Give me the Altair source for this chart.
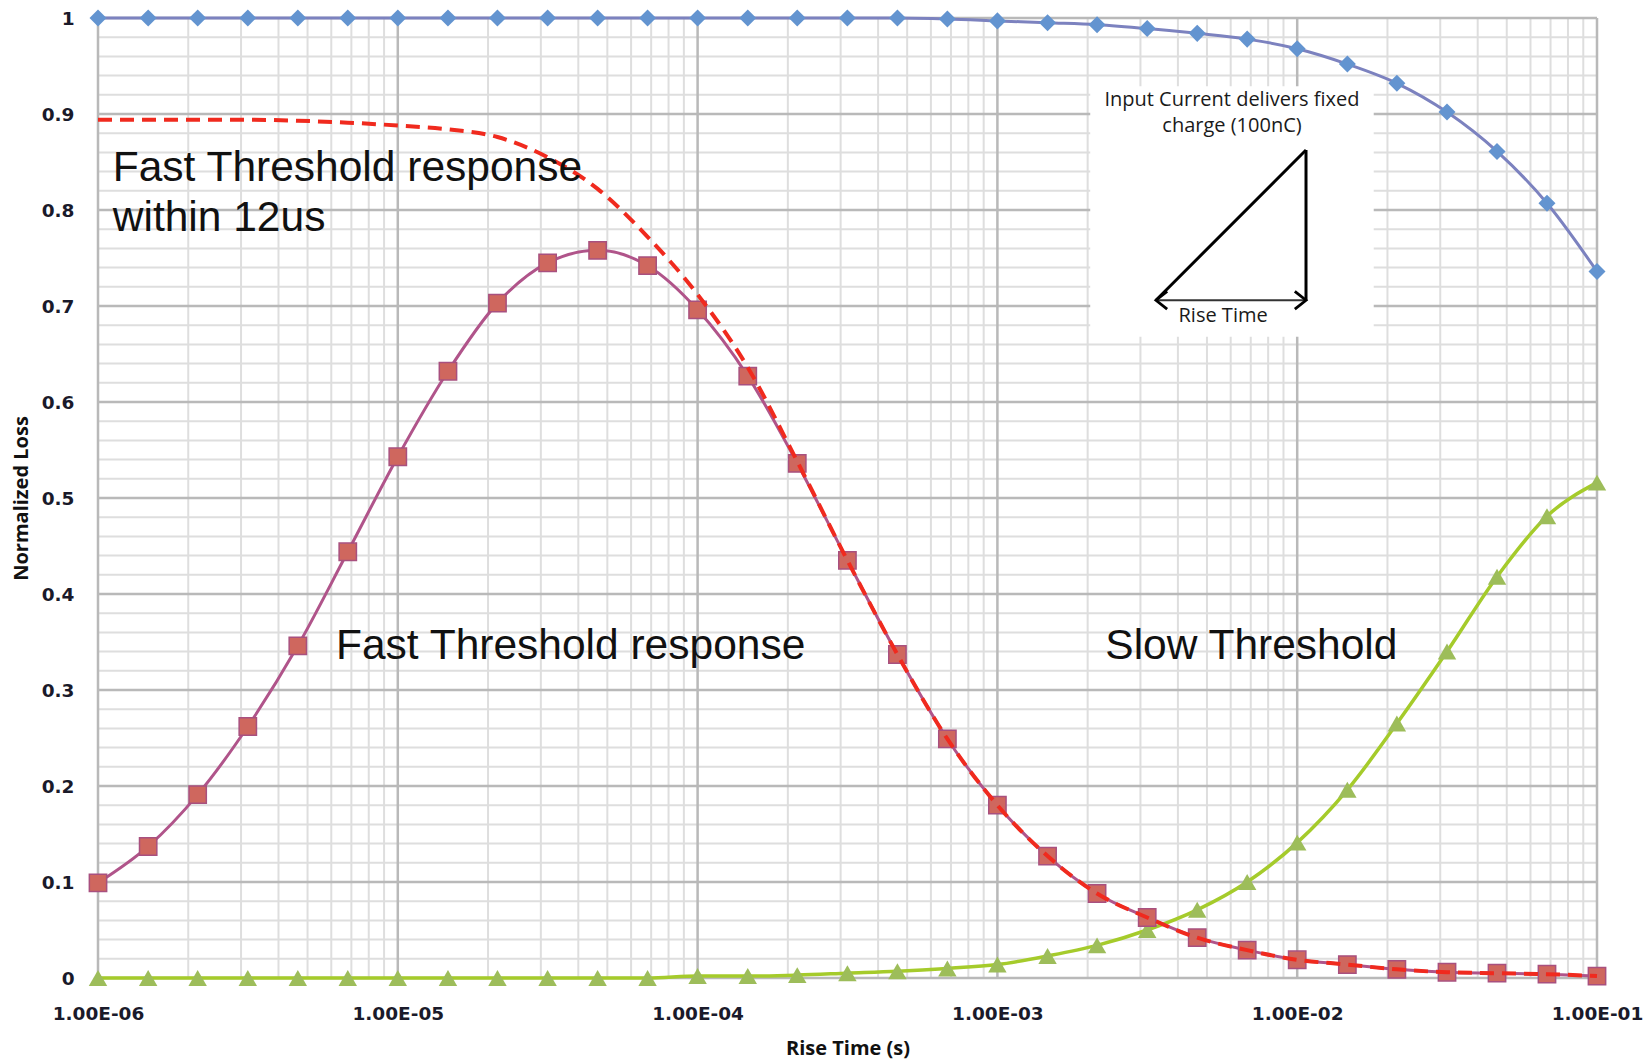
import altair as alt
import pandas as pd

# ---------------- data ----------------
rise_time = [1.00e-6, 1.47e-6, 2.15e-6, 3.16e-6, 4.64e-6, 6.81e-6,
             1.00e-5, 1.47e-5, 2.15e-5, 3.16e-5, 4.64e-5, 6.81e-5,
             1.00e-4, 1.47e-4, 2.15e-4, 3.16e-4, 4.64e-4, 6.81e-4,
             1.00e-3, 1.47e-3, 2.15e-3, 3.16e-3, 4.64e-3, 6.81e-3,
             1.00e-2, 1.47e-2, 2.15e-2, 3.16e-2, 4.64e-2, 6.81e-2,
             1.00e-1]

total_loss = [1.000, 1.000, 1.000, 1.000, 1.000, 1.000,
              1.000, 1.000, 1.000, 1.000, 1.000, 1.000,
              1.000, 1.000, 1.000, 1.000, 1.000, 0.999,
              0.997, 0.995, 0.993, 0.989, 0.984, 0.978,
              0.968, 0.952, 0.932, 0.902, 0.861, 0.807,
              0.736]

fast_threshold = [0.099, 0.137, 0.191, 0.262, 0.346, 0.444,
                  0.543, 0.632, 0.703, 0.745, 0.758, 0.742,
                  0.696, 0.627, 0.536, 0.435, 0.337, 0.249,
                  0.180, 0.127, 0.088, 0.063, 0.042, 0.029,
                  0.019, 0.014, 0.009, 0.006, 0.005, 0.004,
                  0.002]

fast_within_12us = [0.894, 0.894, 0.894, 0.894, 0.893, 0.891,
                    0.888, 0.884, 0.876, 0.855, 0.822, 0.772,
                    0.712, 0.636, 0.538, 0.435, 0.337, 0.249,
                    0.180, 0.127, 0.088, 0.063, 0.042, 0.029,
                    0.019, 0.014, 0.009, 0.006, 0.005, 0.004,
                    0.002]

slow_threshold = [0.000, 0.000, 0.000, 0.000, 0.000, 0.000,
                  0.000, 0.000, 0.000, 0.000, 0.000, 0.000,
                  0.002, 0.002, 0.003, 0.005, 0.007, 0.010,
                  0.014, 0.023, 0.034, 0.050, 0.071, 0.100,
                  0.141, 0.196, 0.265, 0.340, 0.418, 0.481,
                  0.516]

x_major = [1e-6, 1e-5, 1e-4, 1e-3, 1e-2, 1e-1]
x_minor = [m * d for d in [1e-6, 1e-5, 1e-4, 1e-3, 1e-2] for m in range(2, 10)]
y_major = [0.0, 0.1, 0.2, 0.3, 0.4, 0.5, 0.6, 0.7, 0.8, 0.9, 1.0]
y_minor = [i / 50 for i in range(51) if i % 5]

# annotation texts (data coordinates)
ann_text = ["Fast Threshold response", "within 12us", "Fast Threshold response", "Slow Threshold"]
ann_t = [1.12e-6, 1.12e-6, 6.22e-6, 2.29e-3]
ann_v = [0.830, 0.7785, 0.332, 0.332]

# inset (data coordinates)
box_t, box_t2, box_v, box_v2 = [2.04e-3], [1.80e-2], [0.668], [0.929]
seg_t = [3.38e-3, 1.07e-2, 3.38e-3]
seg_t2 = [1.07e-2, 1.07e-2, 1.07e-2]
seg_v = [0.706, 0.8625, 0.706]
seg_v2 = [0.8625, 0.706, 0.706]
seg_w = [3.0, 3.0, 2.2]
seg_c = ["#000000", "#000000", "#333333"]
inset_text = ["Input Current delivers fixed", "charge (100nC)", "Rise Time"]
inset_t = [6.06e-3, 6.06e-3, 5.66e-3]
inset_v = [0.9146, 0.8875, 0.6896]

# ---------------- chart ----------------
W, H = 1499, 960
xs = alt.Scale(type="log", domain=[1e-6, 1e-1], nice=False)
ys = alt.Scale(domain=[0, 1], nice=False, zero=False)

df = pd.DataFrame({"t": rise_time, "total": total_loss, "fast": fast_threshold,
                   "fast12": fast_within_12us, "slow": slow_threshold})

x_axis = alt.Axis(values=x_major, grid=False, ticks=False, domain=False,
                  labelExpr="'1.00E-0' + format(-round(log(datum.value) / LN10), 'd')",
                  labelFont="DejaVu Sans", labelFontSize=18.5, labelFontWeight="bold",
                  labelColor="#1a1a2a", labelPadding=26, labelFlush=False,
                  title="Rise Time (s)", titleFont="Open Sans", titleFontSize=20,
                  titleFontWeight="bold", titleColor="#111111",
                  titleX=W / 2, titleY=70, titleBaseline="middle", titleAlign="center")
y_axis = alt.Axis(values=y_major, grid=False, ticks=False, domain=False, format="~g",
                  labelFont="DejaVu Sans", labelFontSize=18.5, labelFontWeight="bold",
                  labelColor="#1a1a2a", labelPadding=24, labelFlush=False,
                  title="Normalized Loss", titleFont="Open Sans", titleFontSize=20,
                  titleFontWeight="bold", titleColor="#111111",
                  titleX=-77, titleY=H / 2, titleAngle=270, titleBaseline="middle",
                  titleAlign="center")

XQ = alt.X("t:Q", scale=xs)


def YQ(field):
    return alt.Y(field + ":Q", scale=ys)


grid_x_minor = alt.Chart(pd.DataFrame({"t": x_minor})).mark_rule(
    color="#dedede", strokeWidth=2).encode(x=XQ)
grid_y_minor = alt.Chart(pd.DataFrame({"v": y_minor})).mark_rule(
    color="#dedede", strokeWidth=2).encode(y=YQ("v"))
grid_x_major = alt.Chart(pd.DataFrame({"t": x_major})).mark_rule(
    color="#b9b9b9", strokeWidth=2.5).encode(x=XQ)
grid_y_major = alt.Chart(pd.DataFrame({"v": y_major})).mark_rule(
    color="#b9b9b9", strokeWidth=2.5).encode(y=YQ("v"))

box = alt.Chart(pd.DataFrame({"t": box_t, "t2": box_t2, "v": box_v, "v2": box_v2})).mark_rect(
    fill="white").encode(x=XQ, x2="t2:Q", y=YQ("v"), y2="v2:Q")
segs = alt.Chart(pd.DataFrame({"t": seg_t, "t2": seg_t2, "v": seg_v, "v2": seg_v2,
                               "w": seg_w, "c": seg_c})).mark_rule().encode(
    x=XQ, x2="t2:Q", y=YQ("v"), y2="v2:Q",
    strokeWidth=alt.StrokeWidth("w:Q", scale=None),
    color=alt.Color("c:N", scale=None))
arrow_l = alt.Chart(pd.DataFrame({"t": [seg_t[0]], "v": [seg_v[0]]})).mark_point(
    shape="M1,-0.8L0,0L1,0.8", size=500, filled=False, stroke="#000000", strokeWidth=2.8,
    opacity=1).encode(x=XQ, y=YQ("v"))
arrow_r = alt.Chart(pd.DataFrame({"t": [seg_t2[0]], "v": [seg_v[0]]})).mark_point(
    shape="M-1,-0.8L0,0L-1,0.8", size=500, filled=False, stroke="#000000", strokeWidth=2.8,
    opacity=1).encode(x=XQ, y=YQ("v"))
inset_txt = alt.Chart(pd.DataFrame({"t": inset_t, "v": inset_v, "s": inset_text})).mark_text(
    font="Open Sans", fontSize=20, color="#1a1a1a", align="center", baseline="middle").encode(
    x=XQ, y=YQ("v"), text="s:N")

ann = alt.Chart(pd.DataFrame({"t": ann_t, "v": ann_v, "s": ann_text})).mark_text(
    font="Liberation Sans", fontSize=42.5, color="#111111", align="left",
    baseline="alphabetic").encode(x=XQ, y=YQ("v"), text="s:N")

base = alt.Chart(df)
line_total = base.mark_line(color="#7c82bf", strokeWidth=3, interpolate="monotone").encode(
    x=alt.X("t:Q", scale=xs, axis=x_axis), y=alt.Y("total:Q", scale=ys, axis=y_axis))
line_fast = base.mark_line(color="#b0548a", strokeWidth=3, interpolate="monotone").encode(
    x=XQ, y=YQ("fast"))
line_slow = base.mark_line(color="#a5cb2b", strokeWidth=3.5, interpolate="monotone").encode(
    x=XQ, y=YQ("slow"))
pts_total = base.mark_point(shape="diamond", filled=True, size=290, color="#6394d0",
                            opacity=1).encode(x=XQ, y=YQ("total"))
pts_fast = base.mark_point(shape="square", filled=True, size=300, fill="#cf675e",
                           stroke="#a8507f", strokeWidth=1.5, opacity=1).encode(
    x=XQ, y=YQ("fast"))
pts_slow = base.mark_point(shape="triangle-up", filled=True, size=340, color="#9dbd5a",
                           opacity=1).encode(x=XQ, y=YQ("slow"))
line_dash = base.mark_line(color="#f02a1e", strokeWidth=4, strokeDash=[14, 8],
                           interpolate="monotone").encode(x=XQ, y=YQ("fast12"))

chart = alt.layer(
    grid_x_minor, grid_y_minor, grid_x_major, grid_y_major,
    box, segs, arrow_l, arrow_r, inset_txt,
    line_total, line_slow, line_fast,
    pts_total, pts_slow, pts_fast, line_dash, ann
).properties(
    width=W, height=H,
    padding={"left": 98, "top": 18, "right": 54, "bottom": 83},
    autosize=alt.AutoSizeParams(type="none"),
    background="white",
).configure_view(strokeWidth=0)

chart.save("out.html", embed_options={"renderer": "svg", "actions": False})
